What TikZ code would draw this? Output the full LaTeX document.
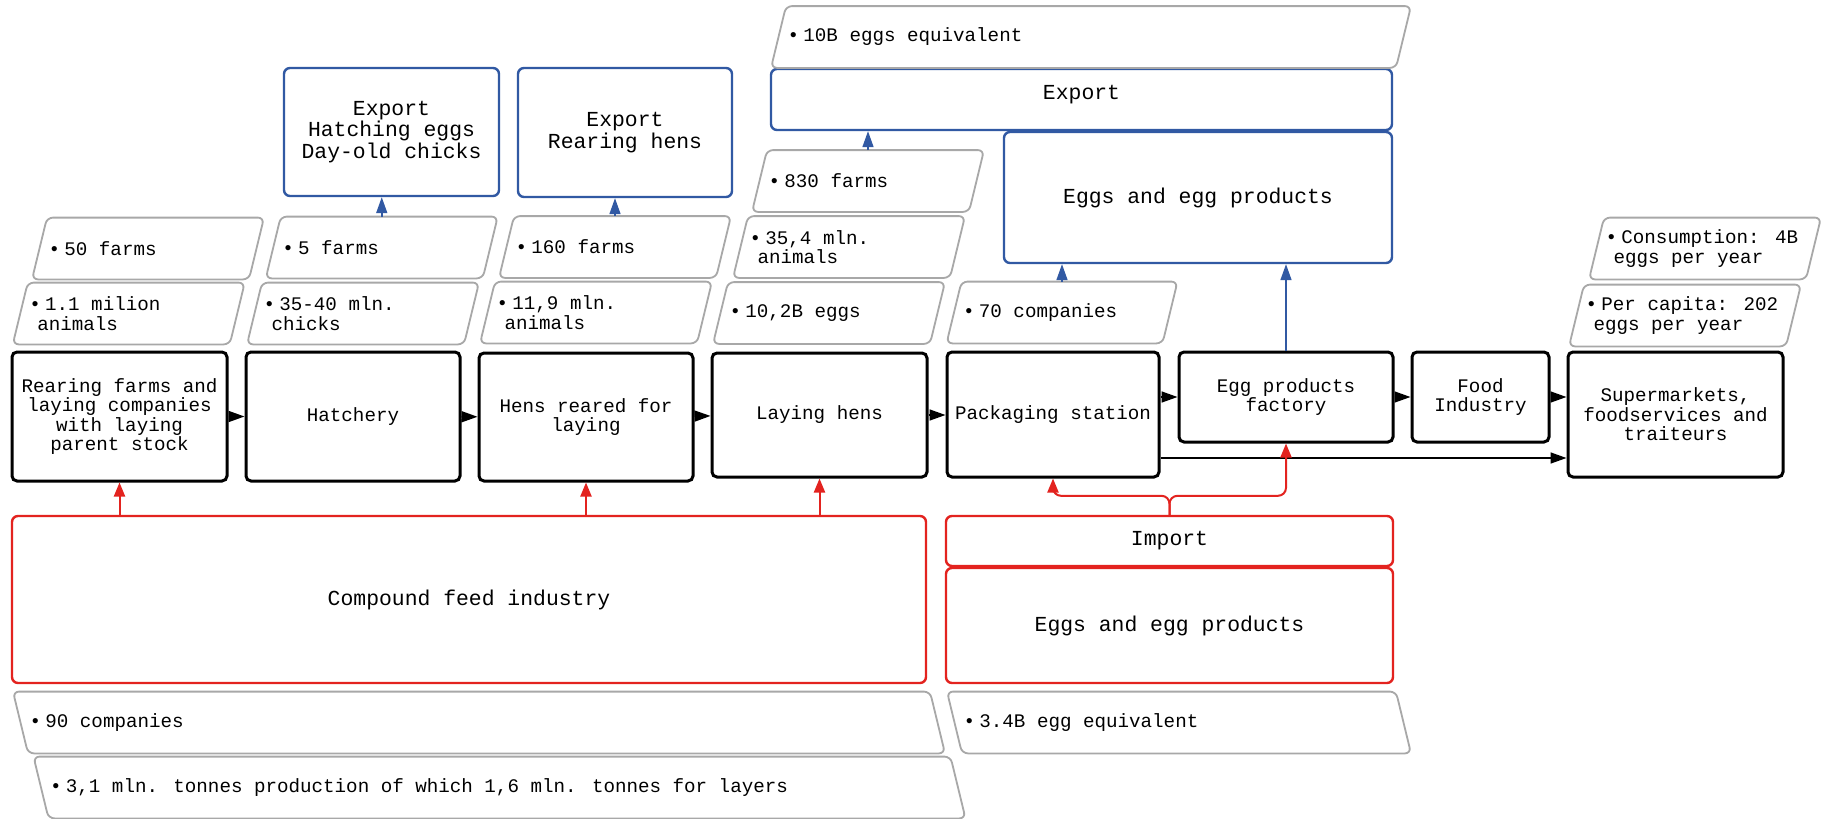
\documentclass[tikz,border=0pt]{standalone}
\usepackage{fontspec}
\setmainfont{Liberation Mono}
\usetikzlibrary{arrows.meta,positioning}
\definecolor{exblue}{HTML}{3159A3}
\definecolor{imred}{HTML}{E3231F}
\definecolor{framegray}{HTML}{A8A8A8}
\newcommand{\smalltxt}{\fontsize{9.6}{9.7}\selectfont}
\newcommand{\bigtxt}{\fontsize{10.7}{10.8}\selectfont}
\tikzset{
  stage/.style={draw=black,line width=1.5pt,rounded corners=2.5pt,
                align=center,font=\smalltxt,inner sep=2pt},
  outbox/.style={draw=exblue,line width=1.2pt,rounded corners=3pt,
                 align=center,font=\bigtxt,inner sep=2pt},
  inbox/.style={draw=imred,line width=1.2pt,rounded corners=3pt,
                align=center,font=\bigtxt,inner sep=2pt},
  infobox/.style={text width=#1,inner xsep=4.3pt,align=left,
                  minimum height=30.5pt,font=\smalltxt,
                  execute at begin node={\spaceskip=0pt\xspaceskip=0pt\relax}},
  paraframe/.style={draw=framegray,line width=0.9pt,rounded corners=3pt},
  flowarr/.style={-{Triangle[length=8pt,width=5.5pt]},line width=0.8pt},
  exarr/.style={-{Triangle[length=8pt,width=5.5pt]},line width=0.8pt,color=exblue},
  feedarr/.style={-{Triangle[length=7pt,width=5.5pt]},line width=1pt,color=imred}
}
\newcommand{\bul}{\textbullet\hspace{2.2pt}}

\begin{document}
\begin{tikzpicture}[x=0.5pt,y=-0.5pt]
  \useasboundingbox (0,0) rectangle (1827,819);
  \path[fill=white] (0,0) rectangle (1827,819);

  % chain of stages
  \node[stage,minimum width=107.5pt,minimum height=64.5pt] (rear) at (119.5,416.5)
    {Rearing farms and\\laying companies\\with laying\\parent stock};
  \node[stage,minimum width=107pt,minimum height=64.5pt] (hatch) at (353,416.5) {Hatchery};
  \node[stage,minimum width=107pt,minimum height=64pt] (reared) at (586,417) {Hens reared for\\laying};
  \node[stage,minimum width=107.5pt,minimum height=62pt] (laying) at (819.5,415) {Laying hens};
  \node[stage,minimum width=106pt,minimum height=62.5pt] (pack) at (1053,414.5) {Packaging station};
  \node[stage,minimum width=107pt,minimum height=45pt] (factory) at (1286,397) {Egg products\\factory};
  \node[stage,minimum width=68.5pt,minimum height=45pt] (food) at (1480.5,397) {Food\\Industry};
  \node[stage,minimum width=107.5pt,minimum height=62.5pt] (super) at (1675.5,414.5)
    {Supermarkets,\\foodservices and\\traiteurs};
  \coordinate (lowline) at (0,458);

  % export side
  \node[outbox,minimum width=107.5pt,minimum height=64pt] (exhatch) at (391.5,132)
    {Export\\Hatching eggs\\Day-old chicks};
  \node[outbox,minimum width=107pt,minimum height=64.5pt] (exrear) at (625,132.5)
    {Export\\Rearing hens};
  \node[outbox,minimum width=310.5pt,minimum height=30.5pt,text height=7pt,text depth=7.4pt]
    (export) at (1081.5,99.5) {Export};
  \node[outbox,minimum width=194pt,minimum height=65.5pt] (eggsout) at (1198,197.5)
    {Eggs and egg products};

  % feed and import
  \node[inbox,minimum width=457pt,minimum height=83.5pt] (feed) at (469,599.5)
    {Compound feed industry};
  \node[inbox,minimum width=223.5pt,minimum height=25pt] (import) at (1169.5,541) {Import};
  \node[inbox,minimum width=223.5pt,minimum height=57.5pt] (eggsin) at (1169.5,625.5)
    {Eggs and egg products};

  % figures
  \node[infobox=99.5pt] (f50) at (148,248.5) {\bul 50 farms};
  \node[infobox=99.5pt] (anim11) at (128.75,313.5) {\bul 1.1 milion\\\hspace*{4pt}animals};
  \node[infobox=99.5pt] (f5) at (381.75,247.5) {\bul 5 farms};
  \node[infobox=99.5pt] (chicks) at (363,313.5) {\bul 35-40 mln.\\\hspace*{4pt}chicks};
  \node[infobox=99.5pt] (f160) at (615,247) {\bul 160 farms};
  \node[infobox=99.5pt] (anim119) at (596,312.5) {\bul 11,9 mln.\\\hspace*{4pt}animals};
  \node[infobox=99.5pt] (f830) at (868,181) {\bul 830 farms};
  \node[infobox=99.5pt] (anim354) at (849,247) {\bul 35,4 mln.\\\hspace*{4pt}animals};
  \node[infobox=99.5pt] (eggs102) at (829,313) {\bul 10,2B eggs};
  \node[infobox=99pt] (comp70) at (1062,312.5) {\bul 70 companies};
  \node[infobox=303.5pt] (eq10B) at (1091,37) {\bul 10B eggs equivalent};
  \node[infobox=99.5pt] (consum) at (1705,248.5) {\bul Consumption: 4B\\\hspace*{4pt}eggs per year};
  \node[infobox=99.5pt] (percap) at (1685,315.5) {\bul Per capita: 202\\\hspace*{4pt}eggs per year};
  \node[infobox=449.5pt] (comp90) at (479,722.5) {\bul 90 companies};
  \node[infobox=449.5pt] (prod31) at (499.5,787.5)
    {\bul 3,1 mln. tonnes production of which 1,6 mln. tonnes for layers};
  \node[infobox=215.5pt] (eq34) at (1179,722.5) {\bul 3.4B egg equivalent};

  % slanted frames
  \foreach \n in {f50,anim11,f5,chicks,f160,anim119,f830,anim354,eggs102,comp70,eq10B,consum,percap}
    \draw[paraframe] (\n.south) -- ([xshift=-3.75pt]\n.south west) -- ([xshift=3.75pt]\n.north west)
      -- ([xshift=3.75pt]\n.north east) -- ([xshift=-3.75pt]\n.south east) -- cycle;
  \foreach \n in {comp90,prod31,eq34}
    \draw[paraframe] (\n.south) -- ([xshift=3.75pt]\n.south west) -- ([xshift=-3.75pt]\n.north west)
      -- ([xshift=-3.75pt]\n.north east) -- ([xshift=3.75pt]\n.south east) -- cycle;

  % flow
  \draw[flowarr] (rear) -- (hatch);
  \draw[flowarr] (hatch) -- (reared);
  \draw[flowarr] (reared) -- (laying);
  \draw[flowarr] (laying) -- (laying -| pack.west);
  \draw[flowarr] (pack.east |- factory.west) -- (factory.west);
  \draw[flowarr] (factory) -- (food);
  \draw[flowarr] (food.east) -- (food.east -| super.west);
  \draw[flowarr] (pack.east |- lowline) -- (super.west |- lowline);

  % exports
  \draw[exarr] (f5.north) -- (f5.north |- exhatch.south);
  \draw[exarr] (f160.north) -- (f160.north |- exrear.south);
  \draw[exarr] (f830.north) -- (f830.north |- export.south);
  \draw[exarr] (comp70.north) -- (comp70.north |- eggsout.south);
  \draw[exarr] (factory.north) -- (factory.north |- eggsout.south);

  % feed and imports
  \draw[feedarr] (feed.north -| rear.south) -- (rear.south);
  \draw[feedarr] (feed.north -| reared.south) -- (reared.south);
  \draw[feedarr] (feed.north -| laying.south) -- (laying.south);
  \draw[feedarr,rounded corners=4pt] (import.north) -- ++(0,-19) -| (pack.south);
  \draw[feedarr,rounded corners=4pt] (import.north) -- ++(0,-19) -| (factory.south);
\end{tikzpicture}
\end{document}
